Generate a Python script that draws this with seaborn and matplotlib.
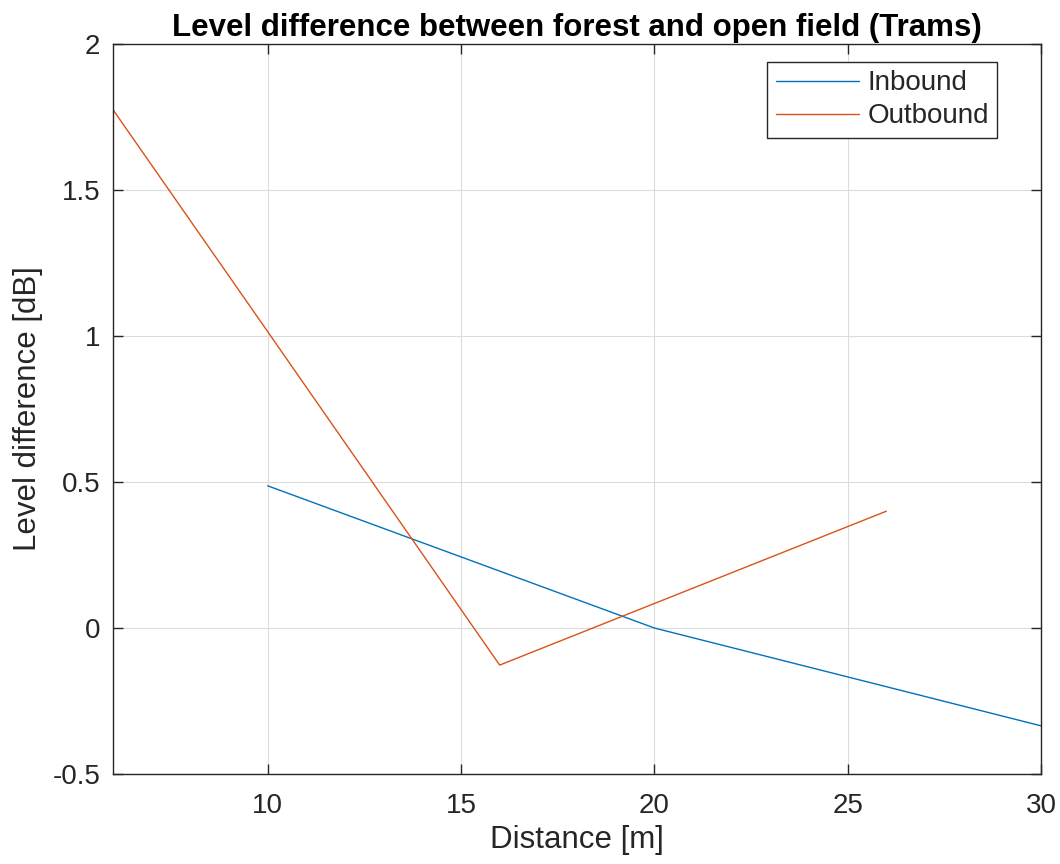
import matplotlib
matplotlib.use("Agg")
import matplotlib.pyplot as plt
import seaborn as sns
import pandas as pd

inbound_x = [10, 20, 30]
inbound_y = [0.487, 0.0, -0.335]
outbound_x = [6, 10, 16, 26]
outbound_y = [1.775, 1.015, -0.127, 0.40]
xticks = [10, 15, 20, 25, 30]
yticks = [-0.5, 0, 0.5, 1, 1.5, 2]
ytick_labels = ["-0.5", "0", "0.5", "1", "1.5", "2"]

sns.set_theme(style="white")
plt.rcParams['font.family'] = ['Liberation Sans', 'DejaVu Sans']

df = pd.concat([
    pd.DataFrame({"x": inbound_x, "y": inbound_y, "s": "Inbound"}),
    pd.DataFrame({"x": outbound_x, "y": outbound_y, "s": "Outbound"}),
])

fig = plt.figure(figsize=(10.6, 8.64), dpi=100)
ax = fig.add_axes([113/1060, 90/864, (1041-113)/1060, (774-44)/864])
sns.lineplot(data=df, x="x", y="y", hue="s", palette=["#0072BD", "#D95319"],
             linewidth=1.0, ax=ax, sort=False, estimator=None)

ax.set_xlim(6, 30)
ax.set_ylim(-0.5, 2)
ax.set_xticks(xticks)
ax.set_xticklabels([str(t) for t in xticks])
ax.set_yticks(yticks)
ax.set_yticklabels(ytick_labels)
ax.grid(True, color="#dcdcdc", linewidth=0.8)
ax.set_axisbelow(True)
for sp in ax.spines.values():
    sp.set_visible(True)
    sp.set_color("#262626")
    sp.set_linewidth(1.0)
ax.tick_params(direction="in", length=7, width=1.0, colors="#262626",
               labelsize=20, top=True, right=True, bottom=True, left=True,
               labeltop=False, labelright=False)
ax.tick_params(axis="x", pad=14)
ax.tick_params(axis="y", pad=9)
ax.set_xlabel("Distance [m]", fontsize=22.5, color="#262626", labelpad=4)
ax.set_ylabel("Level difference [dB]", fontsize=22.5, color="#262626", labelpad=7)
ax.set_title("Level difference between forest and open field (Trams)",
             fontsize=22.5, fontweight="bold", color="black", pad=6)

leg = ax.legend(loc="upper right", bbox_to_anchor=((997-113)/928, (774-62)/730),
                fontsize=20, frameon=True, fancybox=False,
                edgecolor="#262626", handlelength=3.0, borderpad=0.3,
                labelspacing=0.25, handletextpad=0.3, borderaxespad=0.0)
leg.get_frame().set_linewidth(1.0)
leg.get_frame().set_alpha(1)

fig.savefig("out.png", dpi=100, facecolor="white")
